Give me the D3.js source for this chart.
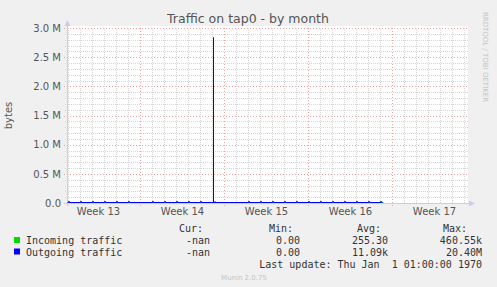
<!DOCTYPE html>
<html>
<head>
<meta charset="utf-8">
<script src="https://cdn.jsdelivr.net/npm/d3@7"></script>
<style>
  body { margin: 0; background: #f0f0f0; }
  svg { display: block; }
  text { font-family: "DejaVu Sans", sans-serif; }
  .mono { font-family: "DejaVu Sans Mono", monospace; font-size: 10px; fill: #333; white-space: pre; }
</style>
</head>
<body>
<div id="chart"></div>
<script>
// munin month graph for tap0

var w = 497;
var h = 287;

var title = "Traffic on tap0 - by month";
var yLabel = "bytes";

// x window of the graph (utc)
var timeStart = "2024-03-25T22:00:00Z";
var timeEnd = "2024-04-28T08:00:00Z";

var weekLabels = ["Week 13", "Week 14", "Week 15", "Week 16", "Week 17"];
var weekMids = ["2024-03-28T12:00:00Z", "2024-04-04T12:00:00Z", "2024-04-11T12:00:00Z", "2024-04-18T12:00:00Z", "2024-04-25T12:00:00Z"];

var yTicks = [0, 500000, 1000000, 1500000, 2000000, 2500000, 3000000];

// data only exists over this part of the window
var dataStart = "2024-03-25T22:00:00Z";
var dataEnd = "2024-04-21T04:00:00Z";

// outgoing: short daily bumps and one big spike
var outPeakTimes = ["2024-03-26T00:00:00Z", "2024-03-27T00:00:00Z", "2024-03-28T00:00:00Z", "2024-03-29T00:00:00Z",
                    "2024-03-30T00:00:00Z", "2024-03-31T00:00:00Z", "2024-04-02T00:00:00Z", "2024-04-03T00:00:00Z",
                    "2024-04-04T00:00:00Z", "2024-04-05T00:00:00Z", "2024-04-06T00:00:00Z", "2024-04-07T02:00:00Z",
                    "2024-04-10T00:00:00Z", "2024-04-11T00:00:00Z", "2024-04-12T00:00:00Z", "2024-04-13T00:00:00Z",
                    "2024-04-14T00:00:00Z", "2024-04-15T00:00:00Z", "2024-04-16T00:00:00Z", "2024-04-17T00:00:00Z",
                    "2024-04-18T00:00:00Z", "2024-04-19T00:00:00Z", "2024-04-20T00:00:00Z", "2024-04-21T00:00:00Z"];
var outPeakValues = [22000, 22000, 22000, 22000, 22000, 22000, 22000, 22000,
                     22000, 22000, 22000, 2830000, 22000, 22000, 22000, 22000,
                     22000, 22000, 22000, 22000, 22000, 22000, 22000, 22000];

// incoming: barely visible, only a tiny bump next to the spike
var inPeakTimes = ["2024-04-07T02:00:00Z"];
var inPeakValues = [15000];

// legend
var legendNames = ["Incoming traffic", "Outgoing traffic"];
var legendColors = ["#00dd00", "#0000ff"];
var legendCur = ["-nan", "-nan"];
var legendMin = ["0.00", "0.00"];
var legendAvg = ["255.30", "11.09k"];
var legendMax = ["460.55k", "20.40M"];
var lastUpdate = "Last update: Thu Jan  1 01:00:00 1970";

var plot = {left: 67, right: 468, top: 28, bottom: 203};

var svg = d3.select("#chart")
            .append("svg")
            .attr("width", w)
            .attr("height", h);

svg.append("rect")
   .attr("width", w)
   .attr("height", h)
   .attr("fill", "#f0f0f0");

var x = d3.scaleUtc()
          .domain([new Date(timeStart), new Date(timeEnd)])
          .range([plot.left, plot.right]);

var y = d3.scaleLinear()
          .domain([0, 3000000])
          .range([plot.bottom, plot.top]);

// white canvas
svg.append("rect")
   .attr("x", plot.left)
   .attr("y", plot.top - 2)
   .attr("width", plot.right - plot.left)
   .attr("height", plot.bottom - plot.top + 2)
   .attr("fill", "#ffffff");

var grid = svg.append("g").attr("shape-rendering", "crispEdges");

// minor grid: every day / every 0.1 M
var days = d3.utcDay.range(x.domain()[0], x.domain()[1]);
grid.selectAll(".vminor")
    .data(days.filter(function (d) { return d.getUTCDay() !== 1; }))
    .enter()
    .append("line")
    .attr("x1", function (d) { return Math.round(x(d)) + 0.5; })
    .attr("x2", function (d) { return Math.round(x(d)) + 0.5; })
    .attr("y1", plot.top)
    .attr("y2", plot.bottom + 1)
    .attr("stroke", "#d6d6d6")
    .attr("stroke-dasharray", "1,1");

var minorY = y.ticks(30).filter(function (d) { return d % 500000 !== 0; });
grid.selectAll(".hminor")
    .data(minorY)
    .enter()
    .append("line")
    .attr("x1", plot.left - 2)
    .attr("x2", plot.right)
    .attr("y1", function (d) { return Math.round(y(d)) + 0.5; })
    .attr("y2", function (d) { return Math.round(y(d)) + 0.5; })
    .attr("stroke", "#d6d6d6")
    .attr("stroke-dasharray", "1,1");

// major grid: weeks / 0.5 M
var mondays = d3.utcMonday.range(x.domain()[0], x.domain()[1]);
grid.selectAll(".vmajor")
    .data(mondays)
    .enter()
    .append("line")
    .attr("x1", function (d) { return Math.round(x(d)) + 0.5; })
    .attr("x2", function (d) { return Math.round(x(d)) + 0.5; })
    .attr("y1", plot.top)
    .attr("y2", plot.bottom + 3)
    .attr("stroke", "#eca4a4")
    .attr("stroke-dasharray", "1,2");

grid.selectAll(".hmajor")
    .data(yTicks.slice(1))
    .enter()
    .append("line")
    .attr("x1", plot.left - 3)
    .attr("x2", plot.right)
    .attr("y1", function (d) { return Math.round(y(d)) + 0.5; })
    .attr("y2", function (d) { return Math.round(y(d)) + 0.5; })
    .attr("stroke", "#eca4a4")
    .attr("stroke-dasharray", "1,2");

// axes lines + arrows
var axisColor = "#c8ccf4";
svg.append("line")
   .attr("x1", plot.left + 0.5).attr("x2", plot.left + 0.5)
   .attr("y1", plot.bottom + 3).attr("y2", plot.top - 5)
   .attr("stroke", axisColor);
svg.append("path")
   .attr("d", "M" + (plot.left - 2.5) + "," + (plot.top - 2) + "L" + (plot.left + 3.5) + "," + (plot.top - 2) + "L" + (plot.left + 0.5) + "," + (plot.top - 8) + "Z")
   .attr("fill", axisColor);
svg.append("line")
   .attr("x1", plot.left - 3).attr("x2", plot.right + 4)
   .attr("y1", plot.bottom + 0.5).attr("y2", plot.bottom + 0.5)
   .attr("stroke", axisColor);
svg.append("path")
   .attr("d", "M" + (plot.right + 1) + "," + (plot.bottom - 2.5) + "L" + (plot.right + 1) + "," + (plot.bottom + 3.5) + "L" + (plot.right + 7) + "," + (plot.bottom + 0.5) + "Z")
   .attr("fill", axisColor);

// y tick labels
var yAxis = d3.axisLeft(y)
              .tickValues(yTicks)
              .tickSize(0)
              .tickPadding(6)
              .tickFormat(function (d) { return d === 0 ? "0.0" : d3.format(".1f")(d / 1e6) + " M"; });

var gy = svg.append("g")
            .attr("transform", "translate(" + plot.left + ",0)")
            .call(yAxis);
gy.select(".domain").remove();
gy.selectAll("text")
  .attr("font-family", "DejaVu Sans")
  .attr("font-size", 10)
  .attr("fill", "#555");

// x tick labels, centred mid-week
var xAxis = d3.axisBottom(x)
              .tickValues(weekMids.map(function (s) { return new Date(s); }))
              .tickSize(0)
              .tickPadding(5)
              .tickFormat(function (d, i) { return weekLabels[i]; });

var gx = svg.append("g")
            .attr("transform", "translate(0," + plot.bottom + ")")
            .call(xAxis);
gx.select(".domain").remove();
gx.selectAll("text")
  .attr("font-family", "DejaVu Sans")
  .attr("font-size", 10)
  .attr("fill", "#555");

// build series from the peak lists: flat zero with one-sample bumps
// (small bumps get one sample of width so they show as dots)
function series(times, values) {
  var pts = [[new Date(dataStart), 0]];
  times.forEach(function (t, i) {
    var t0 = new Date(t);
    var t1 = values[i] < 100000 ? d3.utcHour.offset(t0, 2) : t0;
    pts.push([t0, 0], [t0, values[i]], [t1, values[i]], [t1, 0]);
  });
  pts.push([new Date(dataEnd), 0]);
  return pts;
}

var line = d3.line()
             .x(function (d) { return Math.round(x(d[0])) + 0.5; })
             .y(function (d) { return Math.round(y(d[1])) - 0.5; });

svg.append("path")
   .datum(series(inPeakTimes, inPeakValues))
   .attr("d", line)
   .attr("transform", "translate(1,0)")
   .attr("fill", "none")
   .attr("stroke", legendColors[0])
   .attr("stroke-width", 1);

svg.append("path")
   .datum(series(outPeakTimes, outPeakValues))
   .attr("d", line)
   .attr("fill", "none")
   .attr("stroke", legendColors[1])
   .attr("stroke-width", 1);

// title and labels
svg.append("text")
   .attr("x", 248)
   .attr("y", 23)
   .attr("text-anchor", "middle")
   .attr("font-size", 12.5)
   .attr("fill", "#555")
   .text(title);

svg.append("text")
   .attr("transform", "translate(12," + ((plot.top + plot.bottom) / 2) + ") rotate(-90)")
   .attr("text-anchor", "middle")
   .attr("font-size", 10)
   .attr("fill", "#555")
   .text(yLabel);

svg.append("text")
   .attr("transform", "translate(483,57) rotate(90)")
   .attr("text-anchor", "middle")
   .attr("font-size", 7)
   .attr("fill", "#c4c4c4")
   .text("RRDTOOL / TOBI OETIKER");

// legend
var cols = [
  {head: "Cur:", headX: 203, valX: 210, vals: legendCur},
  {head: "Min:", headX: 293, valX: 300, vals: legendMin},
  {head: "Avg:", headX: 381, valX: 388, vals: legendAvg},
  {head: "Max:", headX: 467, valX: 482, vals: legendMax}
];

cols.forEach(function (c) {
  svg.append("text")
     .attr("class", "mono")
     .attr("x", c.headX)
     .attr("y", 232)
     .attr("text-anchor", "end")
     .text(c.head);
});

var rows = svg.selectAll(".legrow")
              .data(legendNames)
              .enter()
              .append("g")
              .attr("transform", function (d, i) { return "translate(0," + (244 + i * 11.5) + ")"; });

rows.append("rect")
    .attr("x", 14)
    .attr("y", -7)
    .attr("width", 6)
    .attr("height", 6)
    .attr("fill", function (d, i) { return legendColors[i]; });

rows.append("text")
    .attr("class", "mono")
    .attr("x", 26)
    .text(function (d) { return d; });

cols.forEach(function (c) {
  rows.append("text")
      .attr("class", "mono")
      .attr("x", c.valX)
      .attr("text-anchor", "end")
      .text(function (d, i) { return c.vals[i]; });
});

svg.append("text")
   .attr("class", "mono")
   .attr("x", 482)
   .attr("y", 268)
   .attr("text-anchor", "end")
   .text(lastUpdate);

svg.append("text")
   .attr("x", 244)
   .attr("y", 280)
   .attr("text-anchor", "middle")
   .attr("font-size", 7)
   .attr("fill", "#c4c4c4")
   .text("Munin 2.0.75");
</script>
</body>
</html>
